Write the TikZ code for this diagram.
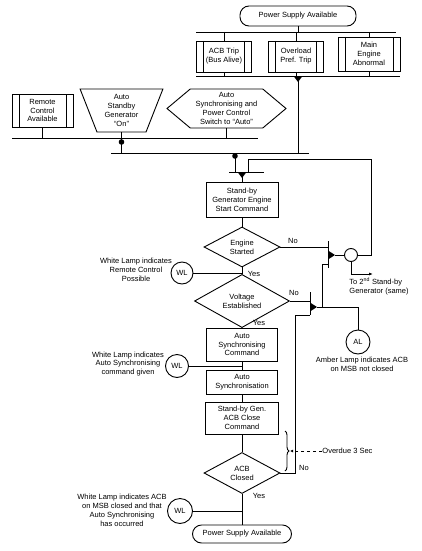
\documentclass[tikz,border=0pt]{standalone}
\usepackage{fontspec}
\setmainfont{Liberation Sans}
\usetikzlibrary{
	arrows.meta, shapes.geometric, shapes.symbols, positioning, calc,
	decorations.pathreplacing
}

\begin{document}
\begin{tikzpicture}[x=1pt,y=-1pt,line width=0.9pt,
		txt/.style={font=\fontsize{7.5}{8.9}\selectfont, align=center, inner sep=0pt},
		ovalbox/.style={txt, draw, rounded corners=9pt},
		procbox/.style={txt, draw, rectangle},
		predefbox/.style={procbox, path picture={
			\draw ([xshift=7pt]path picture bounding box.north west) -- ([xshift=7pt]path picture bounding box.south west);
			\draw ([xshift=-7pt]path picture bounding box.north east) -- ([xshift=-7pt]path picture bounding box.south east);}},
		decision/.style={txt, draw, diamond},
		lamp/.style={txt, draw, circle}]
	\useasboundingbox (0,0) rectangle (421,551);
	\node[ovalbox, minimum width=116pt, minimum height=20pt] (psa) at (298,16) {Power Supply Available};
	\node[predefbox, minimum width=55pt, minimum height=31pt] (acbtrip) at (224,56.5) {ACB Trip\\(Bus Alive)};
	\node[predefbox, minimum width=55pt, minimum height=31pt] (ovl) at (296,56.5) {Overload\\Pref. Trip};
	\node[predefbox, minimum width=62pt, minimum height=34pt] (mea) at (369,54) {Main\\Engine\\Abnormal};
	\node[predefbox, minimum width=61pt, minimum height=33pt] (rca) at (42.5,110.5) {Remote\\Control\\Available};
	\node[txt, draw, trapezium, shape border rotate=180, trapezium left angle=70, trapezium right angle=70,
		trapezium stretches=true, minimum width=83pt, minimum height=43pt] (asg) at (121.5,110.5) {Auto\\Standby\\Generator\\``On''};
	\node[txt, draw, signal, signal to=west and east, signal pointer angle=80,
		minimum width=119pt, minimum height=39pt] (ass) at (226.5,108.5) {Auto\\Synchronising and\\Power Control\\Switch to ``Auto''};
	\node[procbox, minimum width=72pt, minimum height=35pt] (sgs) at (242,199.5) {Stand-by\\Generator Engine\\Start Command};
	\node[decision, minimum width=76pt, minimum height=40pt] (es) at (242,247) {Engine\\Started};
	\node[decision, minimum width=95pt, minimum height=41pt] (ve) at (242,301) {Voltage\\Established};
	\node[procbox, minimum width=71pt, minimum height=33pt] (asc) at (242,344.5) {Auto\\Synchronising\\Command};
	\node[procbox, minimum width=71pt, minimum height=24pt] (asn) at (242,382) {Auto\\Synchronisation};
	\node[procbox, minimum width=73pt, minimum height=32pt] (gcc) at (242,418) {Stand-by Gen.\\ACB Close\\Command};
	\node[decision, minimum width=76pt, minimum height=41pt] (acbc) at (242,473) {ACB\\Closed};
	\node[ovalbox, minimum width=99pt, minimum height=18pt] (psa2) at (242,534) {Power Supply Available};
	\node[lamp, minimum size=22pt] (wl1) at (182,273) {WL};
	\node[lamp, minimum size=23pt] (wl2) at (177,366) {WL};
	\node[lamp, minimum size=25pt] (wl3) at (180,511) {WL};
	\node[lamp, minimum size=24pt] (al) at (358,342) {AL};
	\node[lamp, minimum size=13pt] (sw) at (351,255) {};
	\node[txt] (wl1txt) at (136,270) {White Lamp indicates\\Remote Control\\Possible};
	\node[txt] (wl2txt) at (128,364) {White Lamp indicates\\Auto Synchronising\\command given};
	\node[txt] (wl3txt) at (122,510) {White Lamp indicates ACB\\on MSB closed and that\\Auto Synchronising\\has occurred};
	\node[txt] (altxt) at (362,364) {Amber Lamp indicates ACB\\on MSB not closed};
	\node[txt, align=left, anchor=north west] (to2) at (349,277) {To 2\textsuperscript{nd} Stand-by\\Generator (same)};
	\node[txt, anchor=west] (ovd) at (322,451) {Overdue 3 Sec};
	\node[txt] (yes1) at (254,274) {Yes};
	\node[txt] (yes2) at (259,323) {Yes};
	\node[txt] (yes3) at (259,496) {Yes};
	\node[txt] (no1) at (293,241) {No};
	\node[txt] (no2) at (294,293) {No};
	\node[txt] (no3) at (304,468) {No};

	\coordinate (b1l) at (196,32); \coordinate (b1r) at (396,32);
	\coordinate (b2l) at (196,76); \coordinate (b2r) at (400,76);
	\coordinate (b3l) at (12,138); \coordinate (b3r) at (258,138);
	\coordinate (b4l) at (111,153); \coordinate (b4r) at (309,153);
	\coordinate (b5l) at (229,172); \coordinate (b5r) at (264,172);
	\coordinate (m1) at (298,76); \coordinate (m2) at (242,172);
	\coordinate (d1) at (121.5,142); \coordinate (d2) at (235,156);
	\coordinate (fb) at (248,159); \coordinate (fbr) at (371,159);
	\coordinate (j1) at (328,255); \coordinate (j1t) at (328,241); \coordinate (j1b) at (328,264); \coordinate (j1e) at (328,268);
	\coordinate (j1tip) at (335,255);
	\coordinate (j2) at (310,307); \coordinate (j2t) at (310,292); \coordinate (j2b) at (310,315);
	\coordinate (j2tip) at (317,307); \coordinate (lk) at (322,307); \coordinate (nb) at (295,315);
	\coordinate (t2) at (373,274);

	\draw (b1l) -- (b1r); \draw (b2l) -- (b2r);
	\draw (b3l) -- (b3r); \draw (b4l) -- (b4r); \draw (b5l) -- (b5r);
	\draw (psa.south) -- (psa.south |- b1l);
	\foreach \n in {acbtrip,ovl,mea}{
		\draw (\n.north |- b1l) -- (\n.north);
		\draw (\n.south) -- (\n.south |- b2l);
	}
	\fill (m1) -- ++(-4.5,0) -- ++(4.5,6) -- ++(4.5,-6) -- cycle;
	\draw (m1) -- (m1 |- b4l);
	\draw (rca.south) -- (rca.south |- b3l);
	\draw (ass.south) -- (ass.south |- b3l);
	\draw (asg.south) -- (asg.south |- b4l);
	\fill (d1) circle (2.8pt);
	\draw (d2 |- b4l) -- (d2 |- b5l);
	\fill (d2) circle (2.8pt);
	\fill (m2) -- ++(-4.5,0) -- ++(4.5,6) -- ++(4.5,-6) -- cycle;
	\draw (m2) -- (sgs.north);

	\draw (sgs) -- (es);
	\draw (es) -- (ve);
	\draw (ve) -- (asc);
	\draw (asc) -- (asn);
	\draw (asn) -- (gcc);
	\draw (gcc) -- (acbc);
	\draw (acbc) -- (psa2);
	\draw (wl1.east) -- (wl1.east -| es.south);
	\draw (wl2.east) -- (wl2.east -| asc.south);
	\draw (wl3.east) -- (wl3.east -| acbc.south);

	\draw (j1t) -- (j1e);
	\fill (j1) ++(0,-4.5) -- ++(7,4.5) -- ++(-7,4.5) -- cycle;
	\draw (es.east) -- (es.east -| j1);
	\draw (j1tip) -- (sw.west);
	\draw (sw.east) -| (fbr) -| (fb |- b5l);
	\draw[-{Latex[length=4pt,width=3pt]}] (sw.south) |- (t2);

	\draw (j2t) -- (j2b);
	\fill (j2) ++(0,-4.5) -- ++(7,4.5) -- ++(-7,4.5) -- cycle;
	\draw (ve.east) -- (ve.east -| j2);
	\draw (j2tip) -| (al.north);
	\draw (lk) |- (j1b);
	\draw (acbc.east) -| (nb) -- (j2b);

	\draw[decorate, decoration={brace, amplitude=4pt}] (285,431) -- (285,471);
	\draw[dashed, -{Latex[length=3pt,width=3pt]}] (ovd.west) -- (290,451);
\end{tikzpicture}
\end{document}
